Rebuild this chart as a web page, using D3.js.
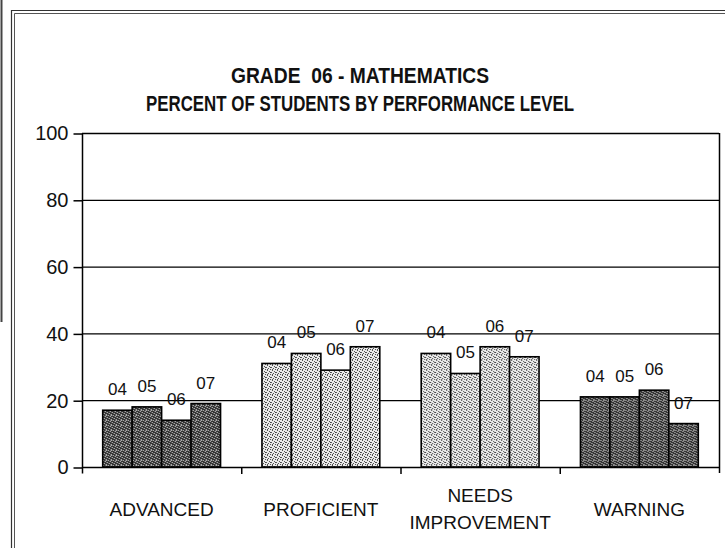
<!doctype html>
<html lang="en">
<head>
  <meta charset="UTF-8">
  <title>Grade 06 - Mathematics</title>
  <style>
    body { margin: 0; background: #fff; }
    #app { position: relative; width: 725px; height: 548px; }
    text { fill: #111; }
  </style>
</head>
<body>
<div id="app"></div>
<script src="https://cdn.jsdelivr.net/npm/d3@7"></script>
<script>
  var categories = ['ADVANCED', 'PROFICIENT', 'NEEDS IMPROVEMENT', 'WARNING'];
  var years = ['04', '05', '06', '07'];
  var advanced = [17, 18, 14, 19];
  var proficient = [31, 34, 29, 36];
  var needsImprovement = [34, 28, 36, 33];
  var warning = [21, 21, 23, 13];
  var yTicks = [0, 20, 40, 60, 80, 100];
  var titleLines = ['GRADE  06 - MATHEMATICS', 'PERCENT OF STUDENTS BY PERFORMANCE LEVEL'];

  var values = [advanced, proficient, needsImprovement, warning];
  var shade = ['dark', 'light', 'light', 'dark'];

  var width = 725;
  var height = 548;
  var plotLeft = 82, plotRight = 719, plotTop = 133, plotBottom = 467;

  var svg = d3.select('#app')
              .append('svg')
              .attr('width', width)
              .attr('height', height);

  // stipple textures, like the printed scan
  var defs = svg.append('defs');
  function stipple(id, base, speck, cells) {
    var p = defs.append('pattern')
      .attr('id', id)
      .attr('width', 5).attr('height', 5)
      .attr('patternUnits', 'userSpaceOnUse');
    p.append('rect').attr('width', 5).attr('height', 5).attr('fill', base);
    cells.forEach(function(c) {
      p.append('rect').attr('x', c[0]).attr('y', c[1])
        .attr('width', 1).attr('height', 1).attr('fill', speck);
    });
  }
  stipple('dark', '#353535', '#d8d8d8', [[0, 0], [2, 1], [4, 2], [1, 3], [3, 4], [3, 0]]);
  stipple('light', '#ececec', '#4a4a4a', [[0, 0], [2, 1], [4, 2], [1, 3], [3, 4], [3, 2], [0, 4]]);

  // page frame
  svg.append('path').attr('d', 'M1.5,0V322').attr('stroke', '#444').attr('stroke-width', 2).attr('fill', 'none');
  svg.append('path').attr('d', 'M11.5,548V10.5H725').attr('stroke', '#333').attr('stroke-width', 1.2).attr('fill', 'none');
  svg.append('path').attr('d', 'M14.5,548V13.5H725').attr('stroke', '#555').attr('stroke-width', 1).attr('fill', 'none');

  // title (condensed bold)
  var titleWidths = [258, 428];
  svg.append('g').selectAll('text')
    .data(titleLines)
    .enter()
    .append('text')
    .attr('x', 360)
    .attr('y', (d, i) => 83 + i * 28)
    .attr('text-anchor', 'middle')
    .attr('font-family', '"Liberation Sans", Arial, sans-serif')
    .attr('font-weight', 'bold')
    .attr('font-size', 22)
    .attr('textLength', (d, i) => titleWidths[i])
    .attr('lengthAdjust', 'spacingAndGlyphs')
    .style('white-space', 'pre')
    .text(d => d);

  var x0 = d3.scaleBand()
    .domain(categories)
    .range([plotLeft, plotRight])
    .paddingInner(0.26)
    .paddingOuter(0.13);
  var x1 = d3.scaleBand()
    .domain(years)
    .range([0, x0.bandwidth()]);
  var y = d3.scaleLinear()
    .domain([0, 100])
    .range([plotBottom, plotTop]);

  // gridlines
  svg.append('g').selectAll('line')
    .data(yTicks.slice(1))
    .enter()
    .append('line')
    .attr('x1', plotLeft).attr('x2', plotRight)
    .attr('y1', d => y(d) + 0.5).attr('y2', d => y(d) + 0.5)
    .attr('stroke', '#000')
    .attr('stroke-width', 1.3);

  // y axis
  var yAxis = svg.append('g')
    .attr('transform', 'translate(' + (plotLeft + 0.5) + ',0.5)')
    .call(d3.axisLeft(y).tickValues(yTicks).tickSize(9).tickPadding(5).tickSizeOuter(0));
  yAxis.select('.domain').attr('d', 'M0,' + plotTop + 'V' + (plotBottom + 6)).attr('stroke-width', 1.5);
  yAxis.selectAll('line').attr('stroke-width', 1.5);
  yAxis.selectAll('text')
    .attr('font-family', '"Liberation Sans", Arial, sans-serif')
    .attr('font-size', 20)
    .attr('fill', '#111');

  // bars
  var groups = svg.append('g').selectAll('g')
    .data(categories)
    .enter()
    .append('g')
    .attr('transform', d => 'translate(' + x0(d) + ',0)');

  groups.selectAll('rect')
    .data((d, i) => values[i].map((v, j) => ({ year: years[j], value: v, shade: shade[i] })))
    .enter()
    .append('rect')
    .attr('x', d => x1(d.year))
    .attr('y', d => y(d.value))
    .attr('width', x1.bandwidth())
    .attr('height', d => plotBottom - y(d.value))
    .attr('fill', d => 'url(#' + d.shade + ')')
    .attr('stroke', '#000')
    .attr('stroke-width', 1.6);

  groups.selectAll('text')
    .data((d, i) => values[i].map((v, j) => ({ year: years[j], value: v })))
    .enter()
    .append('text')
    .attr('x', d => x1(d.year) + x1.bandwidth() / 2)
    .attr('y', d => y(d.value) - 15)
    .attr('text-anchor', 'middle')
    .attr('font-family', '"Liberation Sans", Arial, sans-serif')
    .attr('font-size', 17)
    .attr('fill', '#000')
    .text(d => d.year);

  // x axis
  svg.append('line')
    .attr('x1', plotLeft).attr('x2', plotRight)
    .attr('y1', plotBottom + 0.5).attr('y2', plotBottom + 0.5)
    .attr('stroke', '#000').attr('stroke-width', 1.5);
  svg.append('line')
    .attr('x1', plotRight + 0.5).attr('x2', plotRight + 0.5)
    .attr('y1', plotTop).attr('y2', plotBottom + 6)
    .attr('stroke', '#000').attr('stroke-width', 1.5);
  var step = x0.step();
  svg.append('g').selectAll('line')
    .data(categories.slice(1))
    .enter()
    .append('line')
    .attr('x1', (d, i) => plotLeft + step * (i + 1) + 0.5)
    .attr('x2', (d, i) => plotLeft + step * (i + 1) + 0.5)
    .attr('y1', plotBottom).attr('y2', plotBottom + 7)
    .attr('stroke', '#000').attr('stroke-width', 1.5);

  // category labels
  svg.append('g').selectAll('text')
    .data(categories)
    .enter()
    .append('text')
    .attr('x', d => x0(d) + x0.bandwidth() / 2)
    .attr('y', 516)
    .attr('text-anchor', 'middle')
    .attr('font-family', '"Liberation Sans", Arial, sans-serif')
    .attr('font-size', 19)
    .each(function(d) {
      var words = d === 'NEEDS IMPROVEMENT' ? ['NEEDS', 'IMPROVEMENT'] : [d];
      var t = d3.select(this);
      words.forEach(function(w, k) {
        t.append('tspan')
          .attr('x', t.attr('x'))
          .attr('dy', words.length > 1 ? (k === 0 ? -14 : 27) : 0)
          .text(w);
      });
    });
</script>
</body>
</html>
